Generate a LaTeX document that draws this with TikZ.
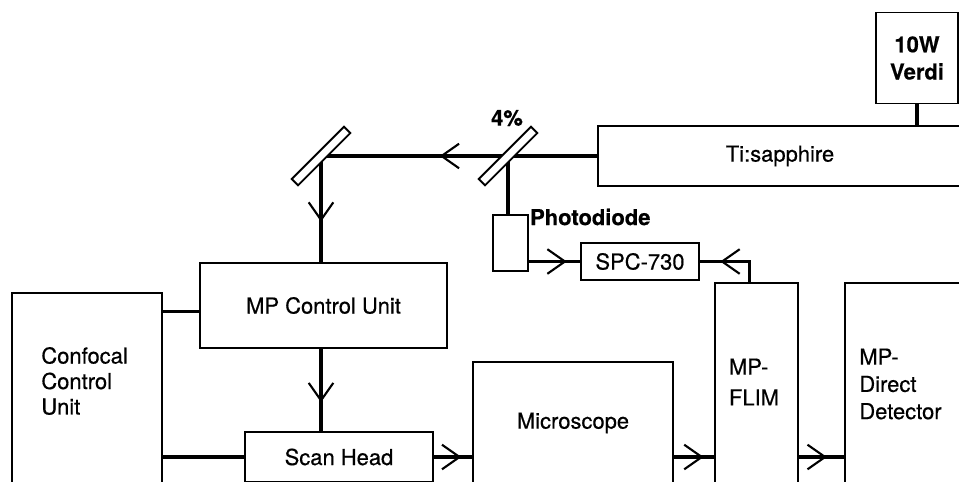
\documentclass[tikz,border=0pt]{standalone}
\usepackage{fontspec}
\setmainfont{TeX Gyre Heros}[FakeBold=0.5]
\usetikzlibrary{calc}
\usetikzlibrary{arrows.meta}
\usetikzlibrary{decorations.markings}
\usetikzlibrary{backgrounds}

\begin{document}
\begin{tikzpicture}[
                x=0.02cm, y=-0.02cm,
                font=\fontsize{12.5}{14.5}\selectfont,
                unit/.style={draw, line width=1.1pt, fill=white, inner sep=0pt, align=center},
                mirror/.style={draw, line width=1.1pt, fill=white, inner sep=0pt, rotate=45,
                minimum width=74*\px, minimum height=9*\px},
                beam/.style={line width=2pt},
                midarrow/.style={postaction={decorate}, decoration={markings,
                mark=at position #1 with {\arrow{Straight Barb[length=10pt, width=14pt, line width=1.2pt]}}}},
                boldlabel/.style={font=\fontsize{12.5}{14.5}\selectfont\bfseries, inner sep=1pt},
                boxtext/.style={align=left, inner sep=0pt},
                ]

                % ── one pixel of the page ──
                \def\px{0.02cm}

                \useasboundingbox (0,0) rectangle (959,481);
                \clip (0,0) rectangle (959,481);

                % ── Lasers ──
                \node[unit, minimum width=82*\px, minimum height=91*\px] (verdi) at (917,58)
                    {\bfseries 10W\\[1pt]\bfseries Verdi};
                \node[unit, minimum width=364*\px, minimum height=60*\px] (tisa) at (780,156) {Ti:sapphire};

                % ── Mirrors ──
                \node[mirror] (bs) at (508,156) {};
                \node[mirror] (turn) at (321,156) {};
                \node[boldlabel] (pct) at (507,118) {4\%};

                % ── Photodiode + counting board ──
                \node[unit, minimum width=35*\px, minimum height=56*\px] (pd) at (510.5,243) {};
                \node[boldlabel, anchor=west] (pdlabel) at (528,217) {Photodiode};
                \node[unit, minimum width=118*\px, minimum height=37*\px] (spc) at (640,261.5) {SPC-730};

                % ── Control units ──
                \node[unit, minimum width=247*\px, minimum height=85*\px] (mpcu) at (323.5,305.5) {MP Control Unit};
                \node[unit, minimum width=150*\px, minimum height=227*\px] (ccu) at (87,406.5) {};
                \node[boxtext, anchor=west] (ccutext) at (41,381) {Confocal\\Control\\Unit};

                % ── Bottom row ──
                \node[unit, minimum width=188*\px, minimum height=50*\px] (scan) at (339,457) {Scan Head};
                \node[unit, minimum width=200*\px, minimum height=158*\px] (micro) at (573,441) {};
                \node[boxtext] (microtext) at (573,423) {Microscope};
                \node[unit, minimum width=83*\px, minimum height=237*\px] (flim) at (756.5,401.5) {};
                \node[boxtext] (flimtext) at (754,382) {MP-\\[3pt]FLIM};
                \node[unit, minimum width=160*\px, minimum height=237*\px] (det) at (925,401.5) {};
                \node[boxtext, anchor=west] (dettext) at (859,384) {MP-\\[1pt]Direct\\[1pt]Detector};

                % ── Connectors ──
                \begin{scope}[on background layer]
                    \draw[beam] (verdi.south) -- (verdi.south |- tisa.north);
                    \draw[beam, midarrow=0.57] (tisa.west) -- (turn.center);
                    \draw[beam, midarrow=0.62] (turn.center) -- (turn |- mpcu.north);
                    \draw[beam] (bs.center) -- (bs |- pd.north);
                    \draw[beam, midarrow=0.74] (pd.east |- spc.west) -- (spc.west);
                    \draw[beam, midarrow=0.71] ([xshift=-7*\px]flim.north) |- (spc.east);
                    \draw[beam] ($(mpcu.west)+(0,6)$) -- ($(mpcu.west -| ccu.east)+(0,6)$);
                    \draw[beam, midarrow=0.65] (mpcu.south -| turn) -- (scan.north -| turn);
                    \draw[beam] (scan.west -| ccu.east) -- (scan.west);
                    \draw[beam, midarrow=0.72] (scan.east) -- (scan.east -| micro.west);
                    \draw[beam, midarrow=0.74] (scan.east -| micro.east) -- (scan.east -| flim.west);
                    \draw[beam, midarrow=0.62] (scan.east -| flim.east) -- (scan.east -| det.west);
                \end{scope}

\end{tikzpicture}
\end{document}
